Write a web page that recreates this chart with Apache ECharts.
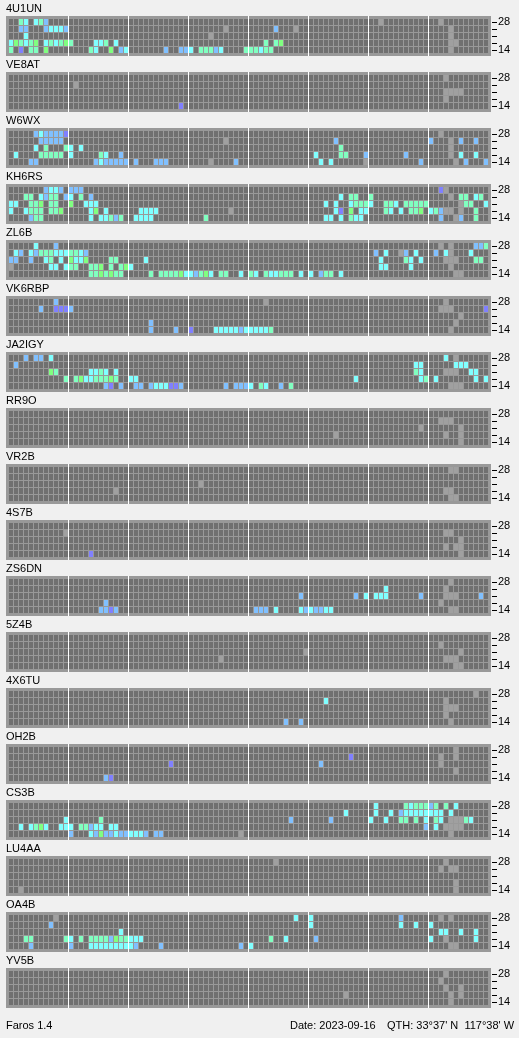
<!DOCTYPE html>
<html><head><meta charset="utf-8">
<script src="https://cdn.jsdelivr.net/npm/echarts@6/dist/echarts.min.js"></script>
<style>html,body{margin:0;padding:0;background:#f0f0f0;}#chart{width:519px;height:1038px;}</style>
</head><body><div id="chart"></div>
<script>
// ---- data ----
const stations = ['4U1UN','VE8AT','W6WX','KH6RS','ZL6B','VK6RBP','JA2IGY','RR9O','VR2B','4S7B','ZS6DN','5Z4B','4X6TU','OH2B','CS3B','LU4AA','OA4B','YV5B'];
const bandLabels = ['14','18','21','24','28'];
const slotCount = 96;        // time slots per day (15 min each)
const slotsPerSection = 12;  // separator every 3 hours
// level codes: '.' none, x no data, p/b/c/m/g signal levels (weak -> strong)
const levelCodes = ['.','x','p','b','c','m','g'];
const levelColors = ['#707070','#a0a0a0','#8080ff','#80c0ff','#80ffff','#80ffc0','#80ff80'];
// each station: bands 14,18,21,24,28 ; tokens "slot+code"
const obs4U1UN = [
 '0m 2p 4m 5m 7g 16m 17c 20g 22b 23c 31b 34b 35b 36c 38m 39m 40m 41b 42c 47m 48m 49m 50c 51m 52m 88x',
 '0c 1g 2m 3c 4m 5g 7c 8m 9c 10m 11g 12m 17c 18c 19m 21c 51m 53m 54g 88x 89x',
 '3c 40x 88x',
 '2b 3b 7b 8c 9c 10c 11b 43x 53b 57x 88x',
 '2m 3c 5c 6m 7b 74x 86x'];
const obsVE8AT = ['34p','87x','87x 88x 89x 90x','13x','87x'];
const obsW6WX = [
 '4b 5b 17b 18c 19b 20b 21b 22b 23b 25b 29b 30b 31b 40x 45b 62c 64c 71x 82b 89x 91b 95b',
 '1c 6m 7m 8m 9m 10m 12c 18m 19c 22b 61c 66m 67m 71b 79b 88x 90c 93c',
 '5c 7m 11m 12c 14c 66m 88x',
 '6b 7b 8b 9b 10b 43x 65b 84b 88x 90b 93b',
 '5b 6c 7b 8b 9b 10b 11p 86x'];
const obsKH6RS = [
 '4b 5m 6m 16c 18c 19c 20m 21b 22m 25c 26c 27c 28c 39m 63c 64c 66c 68m 69c 70c 86b 89x 90b 93m',
 '0c 3c 4m 5m 6m 8m 9m 10g 16c 17g 19c 26c 27c 28c 29c 44x 65c 66p 68g 70c 71c 75m 76c 78c 80m 81m 82g 84c 85m 86b 87x 88x 90x 93m',
 '0c 1c 4m 5m 6g 8m 9m 12g 15c 16c 17c 63c 65c 68c 69m 70m 71m 72c 75m 76m 77c 79m 80m 81m 82m 83m 90x 91m 92m 95c',
 '3m 4m 6c 7b 8m 9m 11b 12c 14m 16b 66c 68m 69m 72m 88x 90m 91m 93c 94m',
 '7b 8c 9c 10b 12b 13b 14b 86p 87x'];
const obsZL6B = [
 '16m 17m 18g 19m 20g 21m 22m 28m 30m 31m 32m 33m 34g 35c 36c 37b 38m 39g 40c 42m 43m 46c 48m 49c 51m 52c 53c 54m 55m 56m 58c 60c 62b 63m 64m 66c 89x 90x',
 '0x 8c 9c 11c 12m 13m 16m 17m 18g 20m 22m 23g 24c 74c 75c 80c 88x',
 '0b 1b 4b 7c 8m 10c 12g 13c 14c 15g 20m 21m 27c 74c 79m 80c 82c 87x 88x 89x 93m 94m',
 '1c 2b 4c 5b 6m 7m 8m 9c 10c 11c 12m 13m 14c 15b 73b 75c 78x 79b 81c 85b 87c 88x 92c',
 '5c 9b 86x 88x 93b 94b 95m'];
const obsVK6RBP = [
 '28b 33b 36p 41c 42c 43c 44c 45c 46b 47c 48c 49c 50c 51c 52m 88x',
 '28b 89x',
 '90x',
 '6b 9p 10p 11p 12b 86x 87x 88x 95p',
 '9b 51x 87x'];
const obsJA2IGY = [
 '19b 20p 22b 25b 26b 28b 29c 30c 31c 32p 33p 34b 43b 45b 46b 47b 48c 50m 51c 54b 56m 88x 89x 90x',
 '11m 13m 14g 15c 16c 17m 18m 19m 20g 21m 24c 25c 69c 82c 83m 85c 93c 95c',
 '8g 9m 16c 17c 18m 19c 21c 81m 82c 87x 88x 89x 92c 93c',
 '1b 81c 82c 89c 90c 91c',
 '3b 5b 6b 8c 87c 89x'];
const obsRR9O = ['90x','65x 87x 90x','82x 90x','86x 87x 88x',''];
const obsVR2B = ['88x 89x','21x 87x 88x','38x','','88x 89x'];
const obs4S7B = ['16p 90x','87x 89x 90x','90x','11x 87x 88x',''];
const obsZS6DN = [
 '18b 19b 20p 21b 49b 50b 51b 53c 58c 59b 60c 61b 62b 63c 64c 88x 89x',
 '19b 86x',
 '58b 69b 71c 73c 74c 75c 82b 87x 88x 89x 94b',
 '75c 87x',
 '88x'];
const obs5Z4B = ['89x 90x','42x 87x 88x 89x','59x 90x','86x',''];
const obs4X6TU = ['55b 58b 88x','87x','87x 88x 89x','63c 87x','93x'];
const obsOH2B = ['19b 20p','89x','32p 62b 86x','68p 86x 89x','89x'];
const obsCS3B = [
 '12b 16c 17b 18g 19b 20b 21c 22b 23b 24c 25c 26c 27b 29b 30b 46x 88x',
 '2c 4c 5m 6g 7c 10c 11c 12c 14m 15m 16b 17c 18c 20c 21c 83b 85c 87x 88x 89x 90x',
 '11c 18m 56b 64b 72c 75c 78m 79m 81m 83c 85m 86c 88x 89x 90x 91m 92c',
 '67c 73c 76c 78b 79c 80c 81c 82c 83c 84c 85c 86c 88c',
 '73c 79m 80c 81m 82m 83m 84b 85m 87m 89c'];
const obsLU4AA = ['2x 89x','89x','','86x 88x 89x','53x 87x'];
const obsOA4B = [
 '4b 12b 16c 17c 18c 19c 20c 21c 22c 23c 24c 25b 30b 46b 48c 88x 89x',
 '3m 4m 11m 12c 14m 16m 17m 18m 19m 20b 21g 22m 23m 24c 25c 26c 52m 55c 61b 84c 87x 93c',
 '22c 86c 87c 90c 93c',
 '8b 60c 78c 81c 84c',
 '9x 57c 60c 78b 86x 88x'];
const obsYV5B = ['88x','67x 88x 90x','87x 90x','86x','87x'];
const observations = [obs4U1UN,obsVE8AT,obsW6WX,obsKH6RS,obsZL6B,obsVK6RBP,obsJA2IGY,obsRR9O,obsVR2B,obs4S7B,obsZS6DN,obs5Z4B,obs4X6TU,obsOH2B,obsCS3B,obsLU4AA,obsOA4B,obsYV5B];
const footerLeft = 'Faros 1.4';
const footerDate = 'Date: 2023-09-16';
const footerQth = "QTH: 33°37' N  117°38' W";

// ---- layout ----
const FONT = 'Liberation Sans';
const PANEL_LEFT = 6, PANEL_W = 485, PANEL_TOP0 = 16, PANEL_STEP = 56, PANEL_H = 40;
const ROW_PX = 7, PAD_PX = 3;

function buildCells(bandsArr){
  const out = [];
  bandsArr.forEach((str, j) => {
    const row = new Array(slotCount).fill(0);
    str.split(/\s+/).filter(Boolean).forEach(t => {
      const slot = parseInt(t, 10);
      const code = t.charAt(t.length - 1);
      row[slot] = levelCodes.indexOf(code);
    });
    row.forEach((lv, i) => out.push([i, j, lv]));
  });
  return out;
}

function renderCell(params, api){
  const p = api.coord([api.value(0), api.value(1)]);
  return {
    type: 'rect',
    shape: { x: Math.round(p[0]), y: Math.round(p[1]) - 3, width: 4, height: 6 },
    style: { fill: levelColors[api.value(2)] }
  };
}

const grids = [], xAxes = [], yAxes = [], series = [], titles = [];
const seps = [];
for (let s = slotsPerSection; s < slotCount; s += slotsPerSection) seps.push({ xAxis: s - 0.1 });
const n = stations.length;
const padUnits = (PAD_PX + 3) / ROW_PX;

stations.forEach((name, k) => {
  const top = PANEL_TOP0 + PANEL_STEP * k;
  // main panel grid (cells)
  grids[k] = { left: PANEL_LEFT, top: top, width: PANEL_W, height: PANEL_H, show: true,
    backgroundColor: '#999999', borderWidth: 0, containLabel: false, outerBoundsMode: 'none' };
  xAxes[k] = { type: 'value', gridIndex: k, min: -0.6, max: slotCount + 0.4, show: false };
  yAxes[k] = { type: 'value', gridIndex: k, min: -padUnits, max: bandLabels.length - 1 + padUnits, show: false };
  // band axis grid (ticks + labels), spanning first to last row centre
  grids[n + k] = { left: PANEL_LEFT, top: top + PAD_PX + 3, width: PANEL_W,
    height: (bandLabels.length - 1) * ROW_PX, show: false, containLabel: false, outerBoundsMode: 'none' };
  xAxes[n + k] = { type: 'value', gridIndex: n + k, min: 1, max: 2, show: false };
  yAxes[n + k] = { type: 'category', gridIndex: n + k, data: bandLabels, boundaryGap: false,
    position: 'right', offset: 1,
    axisLine: { show: false, onZero: false },
    axisTick: { show: true, inside: false, length: 5, interval: 0, lineStyle: { color: '#000', width: 1 } },
    axisLabel: { show: true, interval: (i) => i === 0 || i === bandLabels.length - 1, margin: 6,
      color: '#000', fontSize: 11, fontFamily: FONT },
    splitLine: { show: false } };
  series.push({ type: 'custom', xAxisIndex: k, yAxisIndex: k, silent: true, animation: false,
    renderItem: renderCell, data: buildCells(observations[k]),
    markLine: { silent: true, animation: false, symbol: ['none', 'none'], label: { show: false },
      lineStyle: { color: '#ffffff', width: 1, type: 'solid', opacity: 1 },
      emphasis: { disabled: true }, data: seps } });
  titles.push({ text: name, left: 6, top: top - 13, padding: 0,
    textStyle: { fontSize: 11, fontWeight: 'normal', color: '#000', fontFamily: FONT } });
});
const ft = { fontSize: 11, fontWeight: 'normal', color: '#000', fontFamily: FONT };
titles.push({ text: footerLeft, left: 6, top: 1020, padding: 0, textStyle: ft });
titles.push({ text: footerDate, left: 290, top: 1020, padding: 0, textStyle: ft });
titles.push({ text: footerQth, left: 387, top: 1020, padding: 0, textStyle: ft });

const chart = echarts.init(document.getElementById('chart'), null, { renderer: 'canvas' });
chart.setOption({
  backgroundColor: '#f0f0f0',
  animation: false,
  title: titles,
  grid: grids,
  xAxis: xAxes,
  yAxis: yAxes,
  series: series
});
</script>
</body></html>
